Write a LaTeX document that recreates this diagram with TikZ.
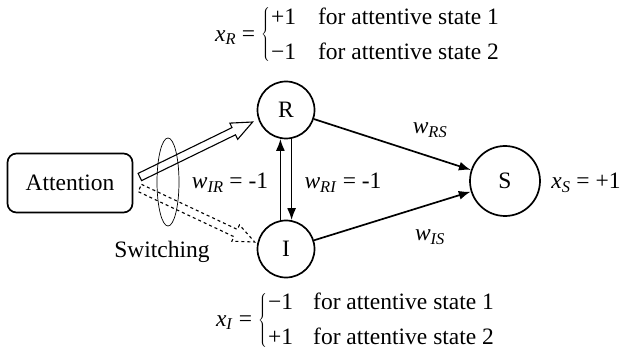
\documentclass[tikz,border=0pt]{standalone}
\usepackage{fontspec}
\setmainfont{Liberation Serif}
\usetikzlibrary{positioning}
\usetikzlibrary{shapes.geometric, arrows, arrows.meta, calc}

\begin{document}
\begin{tikzpicture}[x=1pt, y=-1pt, >={Latex[length=12pt, width=9pt]}, font=\fontsize{23.5}{27}\selectfont,
  unit/.style={circle, draw, line width=1.7pt, inner sep=0pt},
  link/.style={->, line width=1.7pt},
  fat/.style={line width=1.1pt, line join=miter}]
\useasboundingbox (0,0) rectangle (621,358);

\node[rectangle, rounded corners=9pt, draw, line width=1.7pt, minimum width=125pt, minimum height=59pt] (att) at (70,183) {Attention};
\node[unit, minimum size=57pt] (R) at (286,110) {R};
\node[unit, minimum size=57pt] (I) at (286,249) {I};
\node[unit, minimum size=70pt] (S) at (505,181) {S};

\draw[link] (R) -- (S);
\draw[link] (I) -- (S);
\draw[link] (I.101) -- (R.259);
\draw[link] (R.281) -- (I.79);

\node at (230,183) {\textit{w}\textsubscript{\textit{IR}} = -1};
\node at (343,183) {\textit{w}\textsubscript{\textit{RI}} = -1};
\node at (430,130) {\textit{w}\textsubscript{\textit{RS}}};
\node at (430,237) {\textit{w}\textsubscript{\textit{IS}}};
\node (xS) at (586,183) {\textit{x}\textsubscript{\textit{S}} = +1};

% switching arrows
\coordinate (hs) at ($(att.east)+(6.5,-6)$);
\coordinate (ht) at ($(R.west)+(-4,12)$);
\coordinate (hb) at ($(ht)!21pt!(hs)$);
\draw[fat] ($(hs)!4pt!90:(ht)$) -- ($(hb)!4pt!90:(ht)$) -- ($(hb)!9pt!90:(ht)$) -- (ht)
  -- ($(hb)!9pt!-90:(ht)$) -- ($(hb)!4pt!-90:(ht)$) -- ($(hs)!4pt!-90:(ht)$) -- cycle;
\coordinate (ds) at ($(att.east)+(6.5,5)$);
\coordinate (dt) at ($(I.west)+(-2,-7)$);
\coordinate (db) at ($(dt)!21pt!(ds)$);
\draw[fat, dashed] ($(ds)!4pt!90:(dt)$) -- ($(db)!4pt!90:(dt)$) -- ($(db)!9pt!90:(dt)$) -- (dt)
  -- ($(db)!9pt!-90:(dt)$) -- ($(db)!4pt!-90:(dt)$) -- ($(ds)!4pt!-90:(dt)$) -- cycle;
\node[ellipse, draw, line width=0.7pt, minimum width=22pt, minimum height=88pt] (loop) at (168,182) {};
\node (sw) at (162,252) {Switching};

% states
\node[inner sep=0pt] (xR) at (357,35) {\textit{x}\textsubscript{\textit{R}} = $\left\{\vcenter{\hbox{\vrule width 0pt height 56pt}}\right.$\renewcommand{\arraystretch}{1.3}\begin{tabular}{@{}l@{\hspace{22pt}}l@{}}+1 & for attentive state 1\\ −1 & for attentive state 2\end{tabular}};
\node[inner sep=0pt] (xI) at (355,320) {\textit{x}\textsubscript{\textit{I}} = $\left\{\vcenter{\hbox{\vrule width 0pt height 56pt}}\right.$\renewcommand{\arraystretch}{1.3}\begin{tabular}{@{}l@{\hspace{20pt}}l@{}}−1 & for attentive state 1\\ +1 & for attentive state 2\end{tabular}};

\end{tikzpicture}
\end{document}
